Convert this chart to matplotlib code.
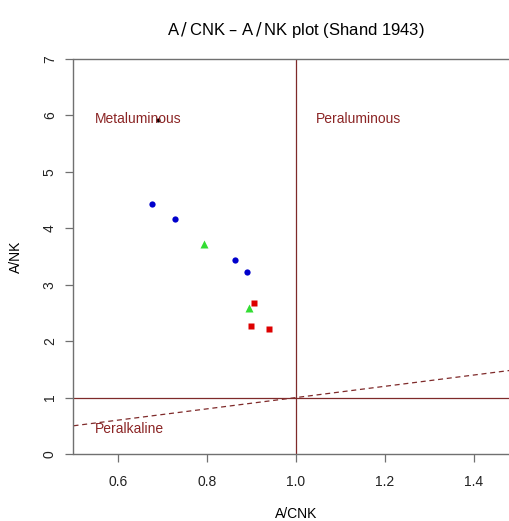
import matplotlib
matplotlib.use("Agg")
import matplotlib.pyplot as plt

plt.rcParams['font.family'] = ['Liberation Sans', 'DejaVu Sans']

# data
blue_x = [0.676, 0.728, 0.863, 0.890]
blue_y = [4.43, 4.17, 3.44, 3.23]
green_x = [0.793, 0.895]
green_y = [3.73, 2.59]
red_x = [0.906, 0.900, 0.939]
red_y = [2.68, 2.27, 2.22]
black_x = [0.690]
black_y = [5.92]

field_names = ['Metaluminous', 'Peraluminous', 'Peralkaline']
field_x = [0.645, 1.14, 0.625]
field_y = [5.93, 5.93, 0.45]

line_col = '#7f2a2a'
text_col = '#8B2525'
axis_col = '#707070'

fig = plt.figure(figsize=(5.1, 5.21), dpi=100)
ax = fig.add_axes([73.5 / 510, 67 / 521, 445 / 510, 395 / 521])

ax.set_xlim(0.5, 1.5)
ax.set_ylim(0, 7)

# reference lines
ax.axhline(1, color=line_col, lw=0.9)
ax.axvline(1, color=line_col, lw=0.9)
ax.plot([0.5, 1.5], [0.5, 1.5], color=line_col, lw=0.9, ls=(0, (4, 3)))

# points
ax.plot(blue_x, blue_y, 'o', color='#0000cc', ms=4.5, mec='none')
ax.plot(green_x, green_y, '^', color='#33dd33', ms=5.5, mec='none')
ax.plot(red_x, red_y, 's', color='#dd0000', ms=5, mec='none')
ax.plot(black_x, black_y, 'o', color='black', ms=3, mec='none')

for name, x, y in zip(field_names, field_x, field_y):
    ax.text(x, y, name, color=text_col, fontsize=10, ha='center', va='center')

ax.set_xticks([0.6, 0.8, 1.0, 1.2, 1.4])
ax.set_xticklabels(['0.6', '0.8', '1.0', '1.2', '1.4'])
ax.set_yticks(range(0, 8))
for lab in ax.get_yticklabels():
    lab.set_rotation(90)
    lab.set_va('center')

ax.tick_params(axis='both', direction='out', length=6, width=0.9, color=axis_col,
               labelsize=10, labelcolor='#222222')
ax.tick_params(axis='x', pad=9)
ax.tick_params(axis='y', pad=6)
for side in ['left', 'bottom', 'top']:
    ax.spines[side].set_color(axis_col)
    ax.spines[side].set_linewidth(1.0)
ax.spines['right'].set_visible(False)

ax.set_xlabel('A/CNK', fontsize=10, labelpad=13)
ax.set_ylabel('A/NK', fontsize=10, labelpad=14)
ax.set_title('A$\\,/\\,$CNK – A$\\,/\\,$NK plot (Shand 1943)', fontsize=12, pad=17)

fig.savefig('out.png', dpi=100)
